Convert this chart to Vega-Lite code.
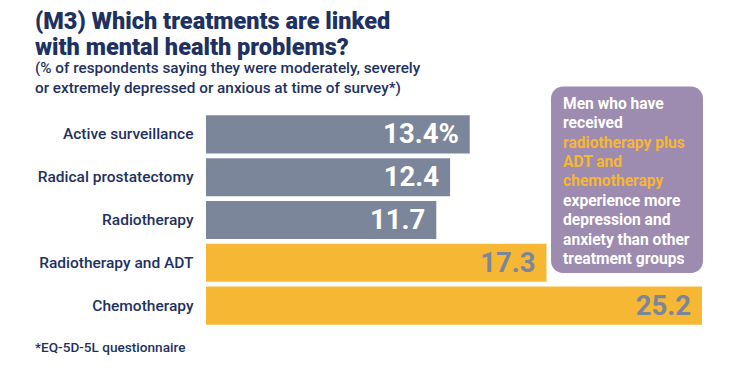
{
  "$schema": "https://vega.github.io/schema/vega-lite/v6.json",
  "width": 496,
  "height": 214,
  "autosize": {"type": "none"},
  "padding": {"left": 206, "top": 113, "right": 33, "bottom": 44},
  "background": "white",
  "config": {"view": {"stroke": null}, "font": "Roboto"},
  "title": {
    "text": ["(M3) Which treatments are linked", "with mental health problems?"],
    "subtitle": ["(% of respondents saying they were moderately, severely", "or extremely depressed or anxious at time of survey*)"],
    "anchor": "start",
    "frame": "bounds",
    "orient": "top",
    "font": "Roboto",
    "fontSize": 23.5,
    "fontWeight": 900,
    "lineHeight": 26,
    "color": "#1e3160",
    "subtitleFont": "Roboto",
    "subtitleFontSize": 15.3,
    "subtitleFontWeight": 500,
    "subtitleLineHeight": 20,
    "subtitleColor": "#1e3160",
    "subtitlePadding": 2,
    "offset": -10
  },
  "datasets": {
    "bars": [
      {"treatment": "Active surveillance", "value": 13.4, "label": "13.4%", "group": "other"},
      {"treatment": "Radical prostatectomy", "value": 12.4, "label": "12.4", "group": "other"},
      {"treatment": "Radiotherapy", "value": 11.7, "label": "11.7", "group": "other"},
      {"treatment": "Radiotherapy and ADT", "value": 17.3, "label": "17.3", "group": "highlight"},
      {"treatment": "Chemotherapy", "value": 25.2, "label": "25.2", "group": "highlight"}
    ],
    "box": [{"x0": 17.53, "x1": 25.25, "y0": -0.62, "y1": 3.74}],
    "lines": [
      {"x": 18.14, "y": -0.22, "text": "Men who have", "emphasis": "no"},
      {"x": 18.14, "y": 0.23, "text": "received", "emphasis": "no"},
      {"x": 18.14, "y": 0.69, "text": "radiotherapy plus", "emphasis": "yes"},
      {"x": 18.14, "y": 1.14, "text": "ADT and", "emphasis": "yes"},
      {"x": 18.14, "y": 1.6, "text": "chemotherapy", "emphasis": "yes"},
      {"x": 18.14, "y": 2.06, "text": "experience more", "emphasis": "no"},
      {"x": 18.14, "y": 2.51, "text": "depression and", "emphasis": "no"},
      {"x": 18.14, "y": 2.97, "text": "anxiety than other", "emphasis": "no"},
      {"x": 18.14, "y": 3.42, "text": "treatment groups", "emphasis": "no"}
    ],
    "note": [{"x": -8.69, "y": 5.5, "text": "*EQ-5D-5L questionnaire"}]
  },
  "layer": [
    {
      "encoding": {
        "y": {
          "field": "treatment",
          "type": "nominal",
          "sort": null,
          "scale": {"paddingInner": 0.11, "paddingOuter": 0.055},
          "axis": {
            "title": null,
            "ticks": false,
            "domain": false,
            "labelPadding": 13,
            "labelFont": "Roboto",
            "labelFontSize": 15.5,
            "labelFontWeight": 500,
            "labelColor": "#1e3160",
            "labelLimit": 300
          }
        },
        "x": {"field": "value", "type": "quantitative", "scale": {"domain": [0, 25.2], "nice": false, "zero": true}, "axis": null}
      },
      "layer": [
        {
          "data": {"name": "bars"},
          "mark": {"type": "bar"},
          "encoding": {
            "color": {"field": "group", "type": "nominal", "scale": {"domain": ["other", "highlight"], "range": ["#7c869a", "#f6b734"]}, "legend": null}
          }
        },
        {
          "data": {"name": "bars"},
          "mark": {"type": "text", "align": "right", "baseline": "middle", "dx": -11, "dy": 1, "font": "Roboto", "fontSize": 27.5, "fontWeight": "bold"},
          "encoding": {
            "text": {"field": "label"},
            "color": {"condition": {"test": "datum.group === 'highlight'", "value": "#7c869a"}, "value": "white"}
          }
        }
      ]
    },
    {
      "layer": [
        {
          "data": {"name": "box"},
          "mark": {"type": "rect", "cornerRadius": 12, "color": "#9d8bb0"},
          "encoding": {
            "x": {"field": "x0", "type": "quantitative", "scale": {"domain": [0, 25.2], "nice": false, "zero": true}, "axis": null},
            "x2": {"field": "x1"},
            "y": {"field": "y0", "type": "quantitative", "scale": {"domain": [0, 5], "reverse": true, "nice": false, "zero": false}, "axis": null},
            "y2": {"field": "y1"}
          }
        },
        {
          "data": {"name": "lines"},
          "mark": {"type": "text", "align": "left", "baseline": "middle", "font": "Roboto", "fontSize": 15.6, "fontWeight": "bold"},
          "encoding": {
            "x": {"field": "x", "type": "quantitative", "scale": {"domain": [0, 25.2], "nice": false, "zero": true}, "axis": null},
            "y": {"field": "y", "type": "quantitative", "scale": {"domain": [0, 5], "reverse": true, "nice": false, "zero": false}, "axis": null},
            "text": {"field": "text"},
            "color": {"condition": {"test": "datum.emphasis === 'yes'", "value": "#f6b734"}, "value": "white"}
          }
        },
        {
          "data": {"name": "note"},
          "mark": {"type": "text", "align": "left", "baseline": "middle", "font": "Roboto", "fontSize": 13.6, "fontWeight": 500, "color": "#1e3160"},
          "encoding": {
            "x": {"field": "x", "type": "quantitative", "scale": {"domain": [0, 25.2], "nice": false, "zero": true}, "axis": null},
            "y": {"field": "y", "type": "quantitative", "scale": {"domain": [0, 5], "reverse": true, "nice": false, "zero": false}, "axis": null},
            "text": {"field": "text"}
          }
        }
      ]
    }
  ],
  "resolve": {"scale": {"y": "independent"}}
}
